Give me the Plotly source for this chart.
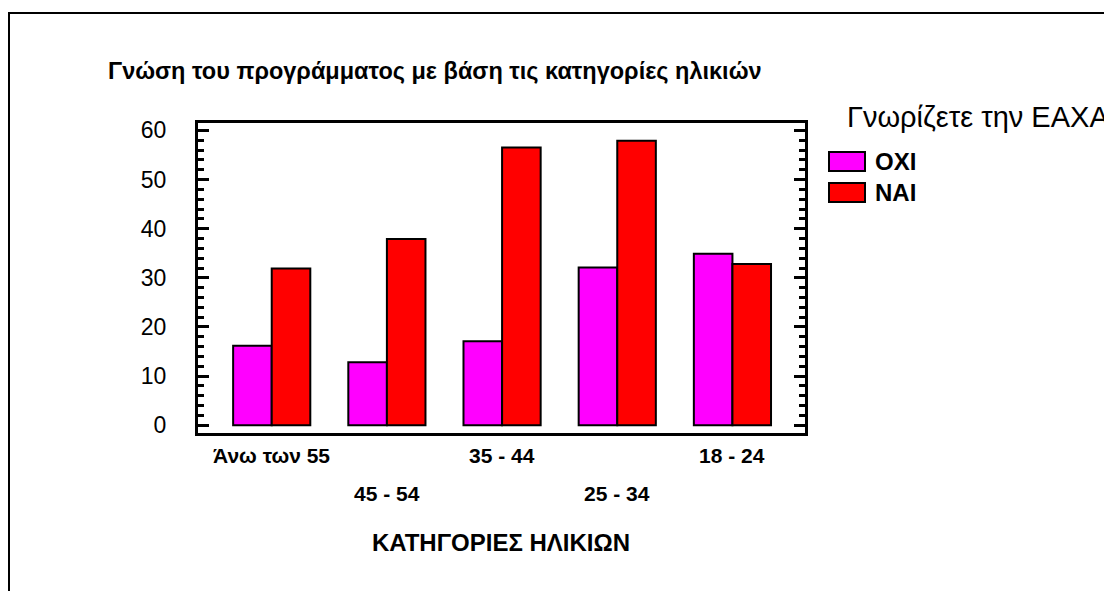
import plotly.graph_objects as go

categories = ["Άνω των 55", "45 - 54", "35 - 44", "25 - 34", "18 - 24"]
oxi_values = [16.2, 12.8, 17.1, 32.1, 34.9]
nai_values = [31.9, 37.9, 56.5, 57.9, 32.8]
series_names = ["ΟΧΙ", "ΝΑΙ"]
series_colors = ["#FF00FF", "#FF0000"]
title_text = "Γνώση του προγράμματος με βάση τις κατηγορίες ηλικιών"
legend_title = "Γνωρίζετε την ΕΑΧΑ"
xaxis_title = "ΚΑΤΗΓΟΡΙΕΣ ΗΛΙΚΙΩΝ"

FONT = "Arial, 'Liberation Sans', sans-serif"
OFF = 8  # page body margin
W, H = 1112 - OFF, 591 - OFF
L, R, T, B = 198, 805, 123, 433  # target page pixels of plot area

def px_x(p):
    return (p - L) / (R - L)

def px_y(p):
    return (B - p) / (B - T)

xs = list(range(len(categories)))

fig = go.Figure()
for name, vals, col in zip(series_names, [oxi_values, nai_values], series_colors):
    fig.add_trace(go.Bar(
        x=xs, y=vals, name=name,
        marker=dict(color=col, line=dict(color="black", width=2)),
        showlegend=False,
    ))

fig.update_layout(
    width=W, height=H,
    margin=dict(l=L - OFF, r=W - (R - OFF), t=T - OFF, b=H - (B - OFF), pad=0),
    paper_bgcolor="white", plot_bgcolor="white",
    barmode="group", bargap=0.33, bargroupgap=0,
    font=dict(family=FONT, color="black"),
    xaxis=dict(
        range=[-0.64, 4.63], showgrid=False, zeroline=False,
        showline=True, linecolor="black", linewidth=3, mirror=True,
        showticklabels=False, ticks="",
    ),
    yaxis=dict(
        range=[-1.57, 61.5], dtick=10, tick0=0, showgrid=False, zeroline=False,
        showline=True, linecolor="black", linewidth=3, mirror="ticks",
        ticks="inside", ticklen=11, tickwidth=3, tickcolor="black",
        tickfont=dict(size=23, family=FONT, color="black"),
        ticklabelstandoff=24,
        minor=dict(ticks="inside", dtick=2, ticklen=6, tickwidth=3, tickcolor="black"),
    ),
)

annotations = []
# title
annotations.append(dict(text="<b>" + title_text + "</b>", xref="paper", yref="paper",
                        x=px_x(106), y=px_y(71), xanchor="left", yanchor="middle",
                        showarrow=False, font=dict(size=23.5, family=FONT, color="black")))
# staggered category labels
for i, c in enumerate(categories):
    yp = 455 if i % 2 == 0 else 493
    annotations.append(dict(text="<b>" + c + "</b>", xref="x", yref="paper",
                            x=xs[i], y=px_y(yp), xanchor="center", yanchor="middle",
                            showarrow=False, font=dict(size=21, family=FONT, color="black")))
# x axis title
annotations.append(dict(text="<b>" + xaxis_title + "</b>", xref="paper", yref="paper",
                        x=px_x(501), y=px_y(542), xanchor="center", yanchor="middle",
                        showarrow=False, font=dict(size=24, family=FONT, color="black")))
# legend title
annotations.append(dict(text=legend_title, xref="paper", yref="paper",
                        x=px_x(845), y=px_y(117), xanchor="left", yanchor="middle",
                        showarrow=False, font=dict(size=29, family=FONT, color="black")))

shapes = []
legend_rows = [(152, 171), (183, 202)]
for (y0, y1), name, col in zip(legend_rows, series_names, series_colors):
    shapes.append(dict(type="rect", xref="paper", yref="paper",
                       x0=px_x(829), x1=px_x(865), y0=px_y(y1), y1=px_y(y0),
                       fillcolor=col, line=dict(color="black", width=2)))
    annotations.append(dict(text="<b>" + name + "</b>", xref="paper", yref="paper",
                            x=px_x(873), y=px_y((y0 + y1) / 2), xanchor="left", yanchor="middle",
                            showarrow=False, font=dict(size=24, family=FONT, color="black")))

# outer frame
shapes.append(dict(type="rect", xref="paper", yref="paper",
                   x0=px_x(9), x1=px_x(1140), y0=px_y(620), y1=px_y(13),
                   fillcolor="rgba(0,0,0,0)", line=dict(color="black", width=2)))

fig.update_layout(annotations=annotations, shapes=shapes)
fig.write_html("out.html")
